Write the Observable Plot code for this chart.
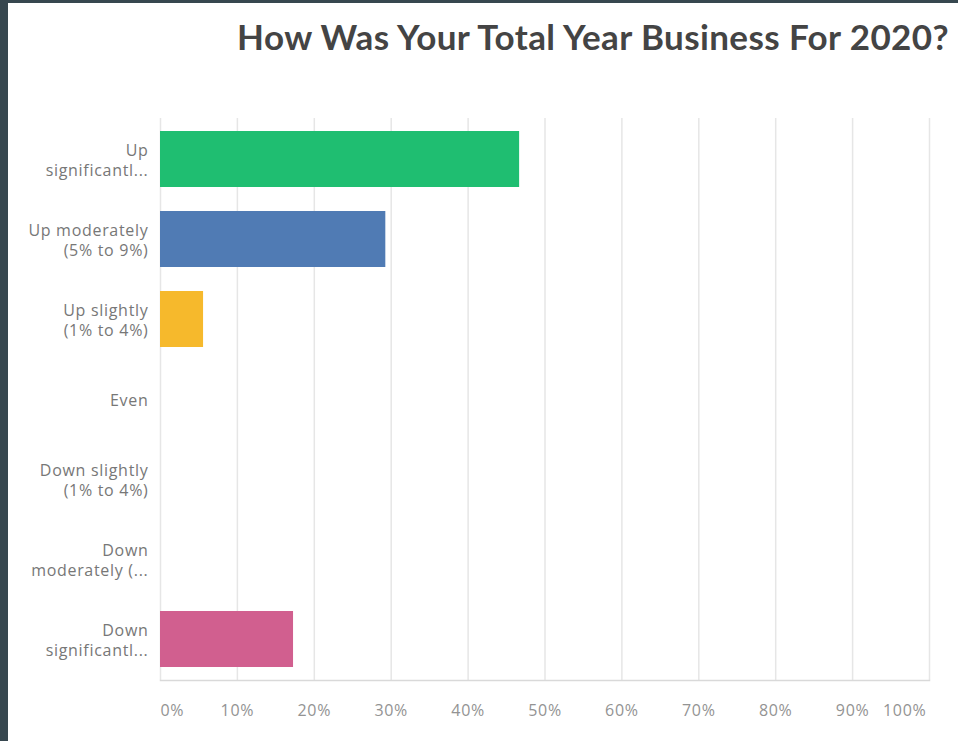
<!DOCTYPE html>
<html>
<head>
<meta charset="utf-8">
<script src="https://cdn.jsdelivr.net/npm/d3@7"></script>
<script src="https://cdn.jsdelivr.net/npm/@observablehq/plot@0.6"></script>
<style>
  html, body { margin: 0; padding: 0; background: #37474f; width: 958px; height: 741px; overflow: hidden; }
  #panel { position: absolute; left: 8px; top: 3px; width: 950px; height: 738px; background: #fff; }
  #title { position: absolute; right: 9px; top: 11px; margin: 0; font-family: Lato, "Open Sans", sans-serif; font-weight: 700; font-size: 35px; line-height: 44px; color: #444; white-space: nowrap; letter-spacing: 0.4px; }
  #chart { position: absolute; left: 0; top: 81px; }
  #chart svg text { letter-spacing: 0.7px; }
</style>
</head>
<body>
<div id="panel">
  <h1 id="title">How Was Your Total Year Business For 2020?</h1>
  <div id="chart"></div>
</div>
<script>
const categories = [
  "Up significantly",
  "Up moderately (5% to 9%)",
  "Up slightly (1% to 4%)",
  "Even",
  "Down slightly (1% to 4%)",
  "Down moderately",
  "Down significantly"
];
const tickLabels = [
  "Up\nsignificantl...",
  "Up moderately\n(5% to 9%)",
  "Up slightly\n(1% to 4%)",
  "Even",
  "Down slightly\n(1% to 4%)",
  "Down\nmoderately (...",
  "Down\nsignificantl..."
];
const values = [46.7, 29.3, 5.6, 0, 0, 0, 17.3];
const colors = ["#1fbe71", "#507bb4", "#f6b92c", "#cccccc", "#cccccc", "#cccccc", "#d15f8f"];
const xTicks = [0, 10, 20, 30, 40, 50, 60, 70, 80, 90, 100];

const data = categories.map((c, i) => ({category: c, value: values[i], color: colors[i]}));
const labelOf = new Map(categories.map((c, i) => [c, tickLabels[i]]));

const font = "'Open Sans', sans-serif";
const chart = Plot.plot({
  width: 950,
  height: 650,
  marginLeft: 152,
  marginRight: 29,
  marginTop: 34,
  marginBottom: 54,
  style: {fontFamily: font, background: "transparent"},
  x: {domain: [0, 100]},
  y: {domain: categories, paddingInner: 0.3, paddingOuter: 0.15},
  marks: [
    Plot.gridX(xTicks, {stroke: "#e6e6e6", strokeOpacity: 1, strokeWidth: 1.5}),
    Plot.barX(data.filter(d => d.value > 0), {x: "value", y: "category", fill: "color"}),
    Plot.frame({anchor: "bottom", stroke: "#d9d9d9", strokeWidth: 1.5}),
    Plot.axisY({tickSize: 0, tickPadding: 12, tickFormat: d => labelOf.get(d), fontSize: 16, fill: "#777777", lineHeight: 1.25, label: null}),
    Plot.axisX([0], {tickSize: 0, tickPadding: 24, textAnchor: "start", tickFormat: d => d + "%", fontSize: 16, fill: "#939393", label: null}),
    Plot.axisX(xTicks.slice(1, -1), {tickSize: 0, tickPadding: 24, tickFormat: d => d + "%", fontSize: 16, fill: "#939393", label: null}),
    Plot.axisX([100], {tickSize: 0, tickPadding: 24, textAnchor: "end", dx: -3, tickFormat: d => d + "%", fontSize: 16, fill: "#939393", label: null})
  ]
});
document.getElementById("chart").appendChild(chart);
</script>
</body>
</html>
